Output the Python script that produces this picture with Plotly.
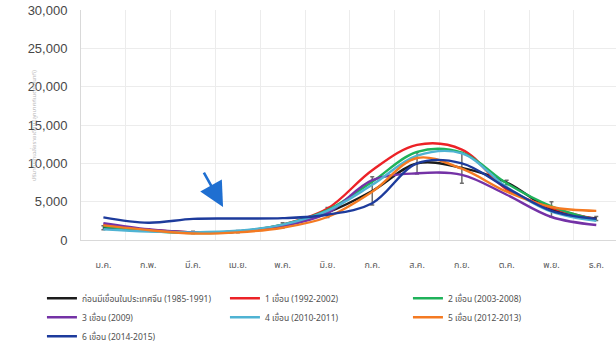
import plotly.graph_objects as go

# Month labels (Thai abbreviations)
months = ["ม.ค.", "ก.พ.", "มี.ค.", "เม.ย.", "พ.ค.", "มิ.ย.",
          "ก.ค.", "ส.ค.", "ก.ย.", "ต.ค.", "พ.ย.", "ธ.ค."]

# Mean monthly flow per period
pre_dam = [1600, 1300, 1000, 1100, 1900, 3600, 6400, 10000, 9400, 7500, 4000, 2800]
pre_dam_err = [250, 150, 150, 150, 350, 650, 1850, 1400, 2000, 300, 1000, 250]
dam1 = [2000, 1300, 1000, 1100, 2000, 4100, 9100, 12400, 11800, 6600, 4200, 2700]
dam2 = [1800, 1200, 900, 1100, 2000, 3900, 7600, 11500, 11400, 7400, 4400, 2600]
dam3 = [2200, 1400, 1000, 1100, 1800, 3500, 7800, 8700, 8500, 5900, 3000, 1950]
dam4 = [1400, 1100, 1000, 1200, 2000, 3800, 7200, 11000, 11300, 6900, 3700, 2500]
dam5 = [1900, 1300, 850, 1000, 1600, 3000, 6300, 10700, 9300, 6300, 4300, 3800]
dam6 = [2950, 2250, 2750, 2800, 2850, 3300, 4800, 10000, 10000, 6800, 3800, 2750]

series_names = [
    "ก่อนมีเขื่อนในประเทศจีน (1985-1991)",
    "1 เขื่อน (1992-2002)",
    "2 เขื่อน (2003-2008)",
    "3 เขื่อน (2009)",
    "4 เขื่อน (2010-2011)",
    "5 เขื่อน (2012-2013)",
    "6 เขื่อน (2014-2015)",
]
series_values = [pre_dam, dam1, dam2, dam3, dam4, dam5, dam6]
series_colors = ["#1c1c1c", "#ec2227", "#1fb25a", "#7432a6",
                 "#4fb3d3", "#f47a22", "#1d3b9c"]

y_ticks = [0, 5000, 10000, 15000, 20000, 25000, 30000]

FONT = "Noto Sans Thai, Tahoma, Liberation Sans, DejaVu Sans, sans-serif"

fig = go.Figure()
for i, (name, vals, col) in enumerate(zip(series_names, series_values, series_colors)):
    err = None
    if i == 0:
        err = dict(type="data", array=pre_dam_err, visible=True,
                   color="#6e6e6e", thickness=1.5, width=2)
    fig.add_trace(go.Scatter(
        x=months, y=vals, name=name, mode="lines",
        line=dict(color=col, width=2.4, shape="spline", smoothing=1.0),
        error_y=err,
    ))

# Pointer to the 6-dam dry-season flow
fig.add_annotation(
    x=2.67, y=4300, xref="x", yref="y",
    ax=-20, ay=-36, axref="pixel", ayref="pixel",
    text="", showarrow=True, arrowhead=2, arrowsize=1.9,
    arrowwidth=2.6, arrowcolor="#1f6fd1",
)

# Faint vertical axis caption
fig.add_annotation(
    x=-0.101, y=0.5, xref="paper", yref="paper",
    text="ปริมาณน้ำเฉลี่ยรายเดือน (ลูกบาศก์เมตร/วินาที)",
    textangle=-90, showarrow=False,
    font=dict(family=FONT, size=6, color="#b8b8b8"),
)

fig.update_layout(
    width=616, height=354,
    margin=dict(l=81, r=0, t=10, b=114, autoexpand=False),
    paper_bgcolor="white", plot_bgcolor="white",
    font=dict(family=FONT, color="#595959"),
    showlegend=True,
    legend=dict(
        orientation="h", x=-0.073, y=-0.19, xanchor="left", yanchor="top",
        entrywidth=138, entrywidthmode="pixels",
        font=dict(family=FONT, size=8.5, color="#505050"),
        bgcolor="rgba(0,0,0,0)", itemwidth=30, tracegroupgap=0,
    ),
    xaxis=dict(
        type="category", range=[-0.5, 11.44], tickson="boundaries",
        showgrid=True, gridcolor="#ececec", gridwidth=1,
        showline=True, linecolor="#d9d9d9", linewidth=1,
        ticks="", ticklabelstandoff=16,
        tickfont=dict(family=FONT, size=9, color="#595959"),
        fixedrange=True,
    ),
    yaxis=dict(
        range=[0, 30000], tickvals=y_ticks, tickformat=",",
        showgrid=True, gridcolor="#ececec", gridwidth=1,
        showline=True, linecolor="#d9d9d9", linewidth=1,
        zeroline=False, ticks="", ticklabelstandoff=10,
        tickfont=dict(family="Liberation Sans, Arial, sans-serif", size=13, color="#474747"),
        fixedrange=True,
    ),
)

fig.write_html("out.html")
